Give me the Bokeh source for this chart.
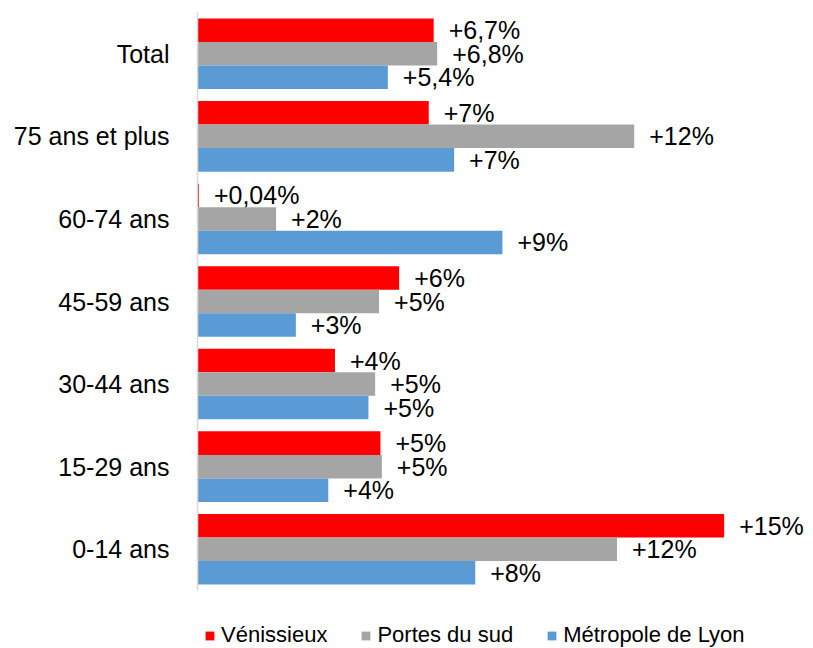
from bokeh.plotting import figure
from bokeh.models import Range1d, ColumnDataSource, Legend, LegendItem, FixedTicker
from bokeh.transform import dodge
from bokeh.core.properties import value
from bokeh.embed import file_html
from bokeh.resources import INLINE

# ---- data ----
categories = ["Total", "75 ans et plus", "60-74 ans", "45-59 ans", "30-44 ans", "15-29 ans", "0-14 ans"]
series_names = ["Vénissieux", "Portes du sud", "Métropole de Lyon"]
venissieux = [6.7, 6.56, 0.04, 5.72, 3.90, 5.19, 14.94]
portes_du_sud = [6.8, 12.39, 2.23, 5.15, 5.04, 5.23, 11.90]
metropole = [5.4, 7.28, 8.65, 2.79, 4.85, 3.71, 7.88]
venissieux_labels = ["+6,7%", "+7%", "+0,04%", "+6%", "+4%", "+5%", "+15%"]
portes_labels = ["+6,8%", "+12%", "+2%", "+5%", "+5%", "+5%", "+12%"]
metropole_labels = ["+5,4%", "+7%", "+9%", "+3%", "+5%", "+4%", "+8%"]
colors = ["#FF0000", "#A5A5A5", "#5B9BD5"]

FONT = "Liberation Sans"

n = len(categories)
ypos = [n - 1 - i for i in range(n)]  # Total at top

src = ColumnDataSource(dict(
    cat=categories, y=ypos,
    v0=venissieux, v1=portes_du_sud, v2=metropole,
    l0=venissieux_labels, l1=portes_labels, l2=metropole_labels,
))

W, H = 813, 648
LEFT, RIGHT, TOP = 197, 8, 12
AXIS_BOTTOM_PX = 590  # where the category axis ends
px_per_unit = 35.25
x_end = (W - LEFT - RIGHT) / px_per_unit
px_per_cat = (AXIS_BOTTOM_PX - TOP) / n
y_start = -0.5 - (H - AXIS_BOTTOM_PX) / px_per_cat

p = figure(width=W, height=H, output_backend="svg", toolbar_location=None,
           y_range=Range1d(y_start, n - 0.5),
           x_range=Range1d(0, x_end),
           x_axis_location=None,
           min_border_left=LEFT, min_border_right=RIGHT,
           min_border_top=TOP, min_border_bottom=0)
p.outline_line_color = None
p.xgrid.visible = False
p.ygrid.visible = False
p.background_fill_color = "white"
p.border_fill_color = "white"

yax = p.yaxis[0]
yax.ticker = FixedTicker(ticks=ypos)
yax.major_label_overrides = {y: c for y, c in zip(ypos, categories)}
yax.bounds = (-0.5, n - 0.5)
yax.major_tick_line_color = None
yax.minor_tick_line_color = None
yax.major_tick_out = 0
yax.major_tick_in = 0
yax.axis_line_color = "#D9D9D9"
yax.axis_line_width = 1.5
yax.major_label_text_font = FONT
yax.major_label_text_font_size = "25px"
yax.major_label_text_color = "#000000"
yax.major_label_standoff = 28

bh = 0.285
offsets = [bh, 0.0, -bh]
renderers = []
for i in range(3):
    r = p.hbar(y=dodge("y", offsets[i]), right="v%d" % i, left=0,
               height=bh, source=src, fill_color=colors[i], line_color=None)
    renderers.append(r)
    p.text(x="v%d" % i, y=dodge("y", offsets[i]), text="l%d" % i,
           source=src, x_offset=15, text_baseline="middle", text_align="left",
           text_font=value(FONT), text_font_size="25px", text_color="#000000")

legend = Legend(items=[LegendItem(label=series_names[i], renderers=[renderers[i]]) for i in range(3)],
                orientation="horizontal", location=(7, 0),
                label_text_font=FONT, label_text_font_size="22px", label_text_color="#000000",
                label_height=22, glyph_width=11, glyph_height=11, label_standoff=6, spacing=33,
                padding=0, margin=0, border_line_color=None, background_fill_alpha=0)
p.add_layout(legend, "center")

open("out.html", "w").write(file_html(p, INLINE))
